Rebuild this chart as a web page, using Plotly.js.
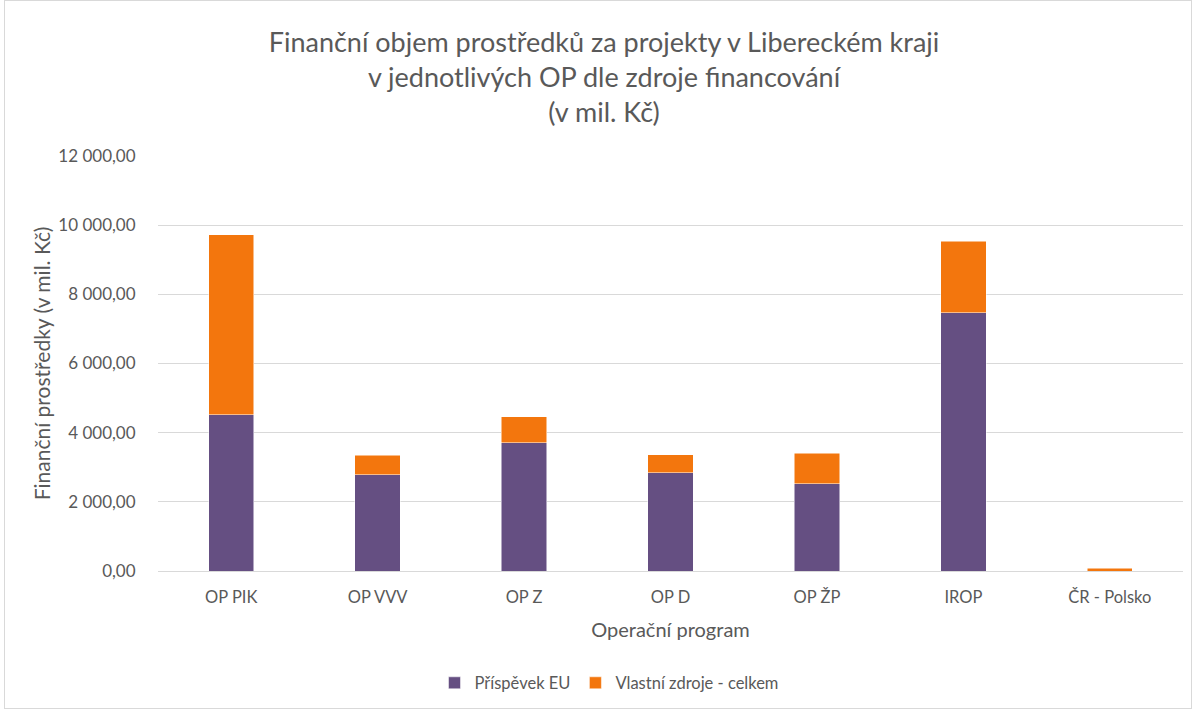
<!DOCTYPE html>
<html>
<head>
<meta charset="utf-8">
<script src="https://cdn.plot.ly/plotly-3.0.1.min.js"></script>
<style>
html,body{margin:0;padding:0;background:#fff;}
#frame{position:absolute;left:4px;top:0px;width:1188px;height:709px;border:1px solid #d9d9d9;box-sizing:border-box;}
#chart{position:absolute;left:0;top:0;width:1197px;height:711px;}
</style>
</head>
<body>
<div id="frame"></div>
<div id="chart"></div>
<script>
const categories = ["OP PIK", "OP VVV", "OP Z", "OP D", "OP ŽP", "IROP", "ČR - Polsko"];
const prispevekEU = [4520, 2789, 3712, 2836, 2530, 7462, 0];
const vlastniZdroje = [5209, 557, 750, 530, 873, 2076, 75];
const seriesNames = ["Příspěvek EU", "Vlastní zdroje - celkem"];
const yTicks = [0, 2000, 4000, 6000, 8000, 10000, 12000];

const font = "Lato, 'Open Sans', sans-serif";
const grey = "#595959";

const traces = [
  {type: "bar", name: seriesNames[0], x: categories, y: prispevekEU,
   marker: {color: "#654f82", line: {color: "#ffffff", width: 0.5}}},
  {type: "bar", name: seriesNames[1], x: categories, y: vlastniZdroje,
   marker: {color: "#f3760d", line: {color: "#ffffff", width: 0.5}}}
];

const layout = {
  width: 1197, height: 711,
  paper_bgcolor: "rgba(0,0,0,0)", plot_bgcolor: "#ffffff",
  barmode: "stack", bargap: 0.69,
  separators: ", ",
  margin: {l: 158, r: 14, t: 156, b: 139},
  font: {family: font, color: grey, size: 16},
  title: {text: "Finanční objem prostředků za projekty v Libereckém kraji<br>v jednotlivých OP dle zdroje financování<br>(v mil. Kč)",
          font: {family: font, size: 27, color: grey}, x: 604 / 1197, xref: "container", xanchor: "center",
          y: 1 - 52 / 711, yanchor: "middle"},
  xaxis: {
    title: {text: "Operační program", font: {family: font, size: 20, color: grey}, standoff: 17},
    tickfont: {family: font, size: 16.5, color: grey},
    showline: true, linecolor: "#d9d9d9", linewidth: 1,
    ticks: "outside", ticklen: 11, tickcolor: "rgba(0,0,0,0)", showgrid: false
  },
  yaxis: {
    title: {text: "Finanční prostředky (v mil. Kč)", font: {family: font, size: 21, color: grey}, standoff: 2},
    range: [0, 12000], tickvals: yTicks, tickformat: ",.2f",
    tickfont: {family: font, size: 17, color: grey},
    gridcolor: "#d9d9d9", gridwidth: 1, zeroline: false, showline: false,
    ticks: "outside", ticklen: 18, tickcolor: "rgba(0,0,0,0)"
  },
  legend: {orientation: "h", x: 0.44, xanchor: "center", y: -0.267, yanchor: "middle",
           font: {family: font, size: 16.5, color: grey}, traceorder: "normal"},
  showlegend: true
};

Plotly.newPlot("chart", traces, layout, {displayModeBar: false, staticPlot: true});
</script>
</body>
</html>
